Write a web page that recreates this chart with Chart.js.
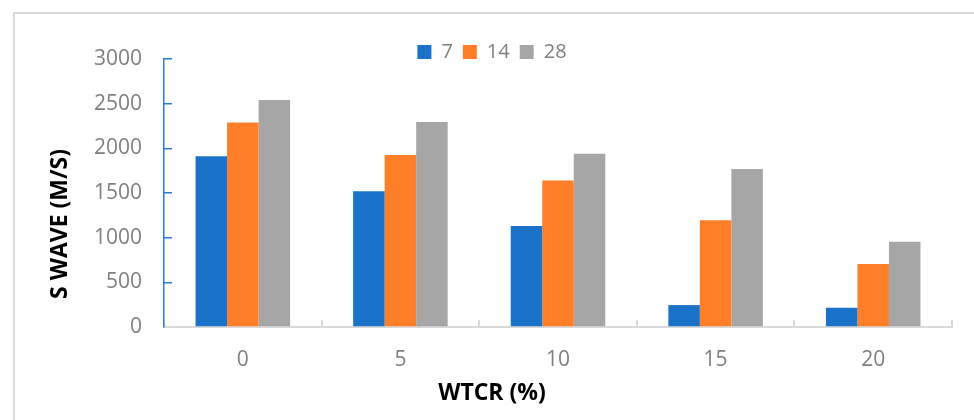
<!DOCTYPE html>
<html>
<head>
<meta charset="utf-8">
<script src="https://cdn.jsdelivr.net/npm/chart.js@4.4.1/dist/chart.umd.min.js"></script>
<style>
  html, body { margin: 0; padding: 0; background: #fff; overflow: hidden; }
  body { width: 974px; height: 420px; position: relative; }
  #frame { position: absolute; left: 13px; top: 12px; width: 2000px; height: 2000px;
           border: 2px solid #d9d9d9; box-sizing: border-box; }
  #chart { position: absolute; left: 0; top: 0; }
</style>
</head>
<body>
<div id="frame"></div>
<canvas id="chart" width="974" height="420"></canvas>
<script>
// WTCR content (%) on the x axis
const categories = ['0', '5', '10', '15', '20'];
// S-wave velocity (m/s) by curing age in days
const days7 = [1910, 1520, 1130, 245, 215];
const days14 = [2290, 1925, 1640, 1195, 705];
const days28 = [2540, 2295, 1940, 1770, 955];
const seriesNames = ['7', '14', '28'];
const yTicks = [0, 500, 1000, 1500, 2000, 2500, 3000];

const tickFont = { family: '"Open Sans", "Liberation Sans", sans-serif', size: 21 };
const legendFont = { family: '"Open Sans", "Liberation Sans", sans-serif', size: 20 };
const titleFont = { family: '"Open Sans", "Liberation Sans", sans-serif', size: 23, weight: 'bold' };

new Chart(document.getElementById('chart'), {
  type: 'bar',
  data: {
    labels: categories,
    datasets: [
      { label: seriesNames[0], data: days7, backgroundColor: '#1a73c9' },
      { label: seriesNames[1], data: days14, backgroundColor: '#fe7f27' },
      { label: seriesNames[2], data: days28, backgroundColor: '#a6a6a6' }
    ]
  },
  options: {
    responsive: false,
    animation: false,
    devicePixelRatio: 1,
    datasets: { bar: { categoryPercentage: 0.6, barPercentage: 1.0 } },
    layout: { padding: { top: 32, left: 32, right: 22, bottom: 4 } },
    plugins: {
      tooltip: { enabled: false },
      legend: {
        position: 'top',
        maxHeight: 27,
        labels: {
          boxWidth: 14, boxHeight: 14, padding: 10,
          color: '#7f7f7f', font: legendFont
        }
      },
      title: {
        display: true, position: 'left', text: 'S WAVE (M/S)',
        color: '#000', font: titleFont,
        padding: { top: 14.2, bottom: -9.8 }
      },
      subtitle: {
        display: true, position: 'bottom', text: 'WTCR (%)',
        color: '#000', font: titleFont,
        padding: { top: -20.8, bottom: 9.2 }
      }
    },
    scales: {
      x: {
        grid: { display: true, drawOnChartArea: false, offset: true,
                color: '#d9d9d9', lineWidth: 2, tickLength: -7 },
        border: { display: true, color: '#d9d9d9', width: 2 },
        ticks: { color: '#7f7f7f', font: tickFont, padding: 27.4 }
      },
      y: {
        min: 0, max: 3000,
        afterBuildTicks: (scale) => { scale.ticks = yTicks.map(v => ({ value: v })); },
        grid: { display: true, drawOnChartArea: false,
                color: '#2a7bd0', lineWidth: 1.5, tickLength: -8 },
        border: { display: true, color: '#2a7bd0', width: 1.5 },
        ticks: { color: '#7f7f7f', font: tickFont, padding: 30,
                 callback: (value) => String(value) }
      }
    }
  }
});
</script>
</body>
</html>
